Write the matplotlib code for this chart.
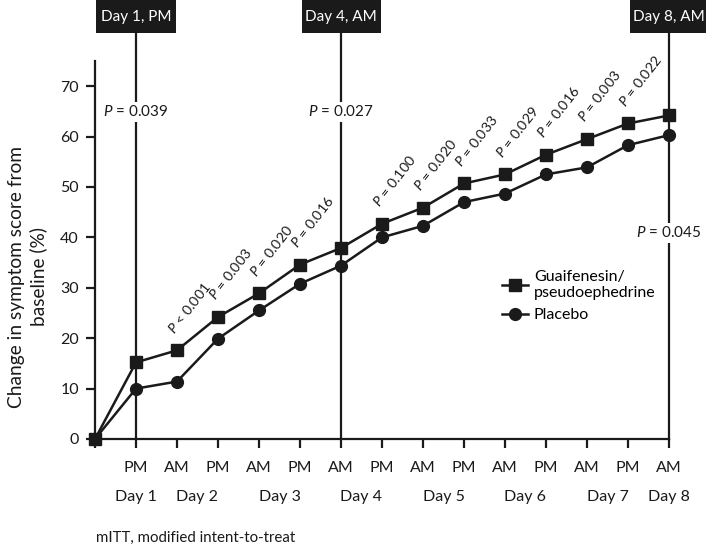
import matplotlib
matplotlib.use("Agg")
import matplotlib.pyplot as plt
import matplotlib.transforms as mtransforms
from matplotlib.patches import Rectangle

plt.rcParams['font.family'] = ['Lato', 'DejaVu Sans']
plt.rcParams['mathtext.fontset'] = 'custom'
plt.rcParams['mathtext.rm'] = 'Lato'
plt.rcParams['mathtext.it'] = 'Lato:italic'

# ---- data ----
tick_labels = ["", "PM", "AM", "PM", "AM", "PM", "AM", "PM", "AM", "PM", "AM", "PM", "AM", "PM", "AM"]
day_labels = ["Day 1", "Day 2", "Day 3", "Day 4", "Day 5", "Day 6", "Day 7", "Day 8"]
day_positions = [1, 2.5, 4.5, 6.5, 8.5, 10.5, 12.5, 14]
guaifenesin = [0, 15.2, 17.6, 24.2, 28.9, 34.6, 37.9, 42.7, 45.9, 50.7, 52.5, 56.4, 59.5, 62.6, 64.2]
placebo = [0, 10.0, 11.4, 19.9, 25.5, 30.8, 34.4, 40.0, 42.3, 47.0, 48.7, 52.5, 53.9, 58.3, 60.3]
rot_pvalues = {2: "< 0.001", 3: "= 0.003", 4: "= 0.020", 5: "= 0.016", 7: "= 0.100", 8: "= 0.020",
               9: "= 0.033", 10: "= 0.029", 11: "= 0.016", 12: "= 0.003", 13: "= 0.022"}
marked_points = [1, 6, 14]
marked_titles = ["Day 1, PM", "Day 4, AM", "Day 8, AM"]
marked_pvalues = ["= 0.039", "= 0.027", "= 0.045"]
marked_pvalue_y = [64.9, 64.9, 40.9]
footnote = "mITT, modified intent-to-treat"

x = list(range(len(tick_labels)))
INK = '#1a1a1a'

fig = plt.figure(figsize=(7.06, 5.46), dpi=100)
ax = fig.add_axes([95/706, 1-439/546, 574/706, 378/546])
ax.set_xlim(0, 14)
ax.set_ylim(0, 75)

blend = mtransforms.blended_transform_factory(ax.transData, ax.transAxes)
for xi, title, pv, py in zip(marked_points, marked_titles, marked_pvalues, marked_pvalue_y):
    ax.plot([xi, xi], [0, (439-33)/378], transform=blend, color=INK, lw=1.6, clip_on=False, zorder=1)
    ax.add_patch(Rectangle((xi - 79/41/2, (439-33)/378), 79/41, 40/378, transform=blend,
                           facecolor=INK, edgecolor='none', clip_on=False, zorder=3))
    ax.text(xi, (439-16.5)/378, title, transform=blend, ha='center', va='center',
            color='white', fontsize=11, zorder=4)
    ax.text(xi, py, r"$\it{P}$ " + pv, ha='center', va='center', fontsize=11, zorder=4,
            color=INK, bbox=dict(facecolor='white', edgecolor='none', pad=1.5))

l1, = ax.plot(x, guaifenesin, color=INK, lw=1.8, marker='s', markersize=8.5, clip_on=False, zorder=5)
l2, = ax.plot(x, placebo, color=INK, lw=1.8, marker='o', markersize=8.5, clip_on=False, zorder=5)

for i, pv in rot_pvalues.items():
    ax.annotate(r"$\it{P}$ " + pv, (x[i], guaifenesin[i]), xytext=(-3, 16), textcoords='offset pixels',
                rotation=52, rotation_mode='anchor', ha='left', va='baseline', fontsize=10.2,
                color=INK, zorder=6)

ax.spines['top'].set_visible(False)
ax.spines['right'].set_visible(False)
for s in ['left', 'bottom']:
    ax.spines[s].set_linewidth(1.6)
    ax.spines[s].set_color(INK)
ax.spines['left'].set_bounds(0, 75)

ax.set_yticks(range(0, 71, 10))
ax.set_xticks(x)
ax.set_xticklabels(tick_labels)
ax.tick_params(axis='both', direction='out', length=6.5, width=1.6, color=INK,
               labelsize=11.5, labelcolor=INK)
ax.tick_params(axis='y', pad=5)
ax.tick_params(axis='x', pad=9)

for lbl, pos in zip(day_labels, day_positions):
    ax.text(pos, (439-497)/378, lbl, transform=blend, ha='center', va='center', fontsize=11.5, color=INK)

ax.set_ylabel("Change in symptom score from\nbaseline (%)", fontsize=13.8, linespacing=1.25, color=INK)
ax.yaxis.set_label_coords((47-95)/574, (439-277)/378)

ax.legend([l1, l2], ["Guaifenesin/\npseudoephedrine", "Placebo"], loc='upper left',
          bbox_to_anchor=((502-95)/574, (439-270)/378), frameon=False, borderpad=0, borderaxespad=0,
          handlelength=1.6, handletextpad=0.4, labelspacing=0.5, fontsize=11.5)

fig.text(96/706, 1-538/546, footnote, ha='left', va='center', fontsize=10.8, color=INK)

fig.savefig("out.png", dpi=100)
